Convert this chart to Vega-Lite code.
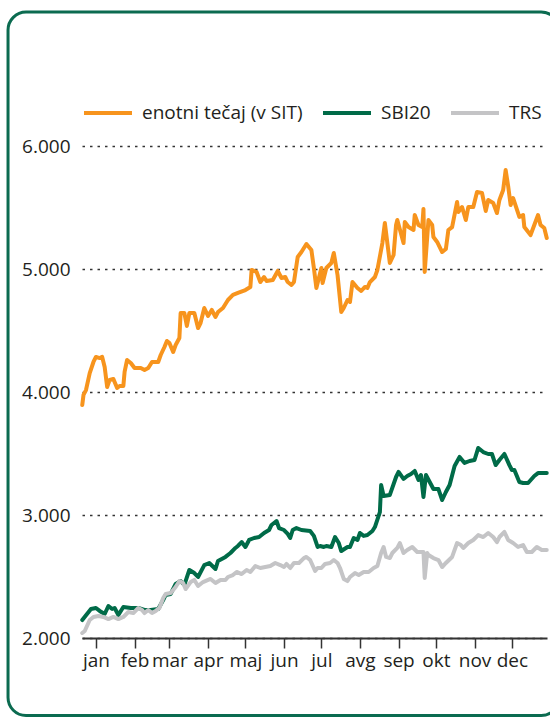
{
"$schema": "https://vega.github.io/schema/vega-lite/v6.json",
"width": 465, "height": 492,
"autosize": {"type": "none"},
"padding": {"left": 82, "top": 146, "right": 3, "bottom": 79},
"background": "white",
"config": {"font": "Open Sans", "view": {"stroke": null}},
"layer": [
{
"data": {"values": [
{"series":"enotni tečaj (v SIT)","day":-11,"value":3894},{"series":"enotni tečaj (v SIT)","day":-10,"value":3976},{"series":"enotni tečaj (v SIT)","day":-8,"value":4016},{"series":"enotni tečaj (v SIT)","day":-5,"value":4154},{"series":"enotni tečaj (v SIT)","day":-2,"value":4244},{"series":"enotni tečaj (v SIT)","day":0,"value":4285},{"series":"enotni tečaj (v SIT)","day":3,"value":4276},{"series":"enotni tečaj (v SIT)","day":5,"value":4285},{"series":"enotni tečaj (v SIT)","day":7,"value":4203},{"series":"enotni tečaj (v SIT)","day":9,"value":4041},{"series":"enotni tečaj (v SIT)","day":11,"value":4098},{"series":"enotni tečaj (v SIT)","day":14,"value":4106},{"series":"enotni tečaj (v SIT)","day":15,"value":4081},{"series":"enotni tečaj (v SIT)","day":17,"value":4033},{"series":"enotni tečaj (v SIT)","day":19,"value":4049},{"series":"enotni tečaj (v SIT)","day":22,"value":4049},{"series":"enotni tečaj (v SIT)","day":23,"value":4163},{"series":"enotni tečaj (v SIT)","day":25,"value":4260},{"series":"enotni tečaj (v SIT)","day":28,"value":4236},{"series":"enotni tečaj (v SIT)","day":31,"value":4195},{"series":"enotni tečaj (v SIT)","day":33,"value":4195},{"series":"enotni tečaj (v SIT)","day":36,"value":4195},{"series":"enotni tečaj (v SIT)","day":39,"value":4179},{"series":"enotni tečaj (v SIT)","day":42,"value":4195},{"series":"enotni tečaj (v SIT)","day":45,"value":4244},{"series":"enotni tečaj (v SIT)","day":50,"value":4244},{"series":"enotni tečaj (v SIT)","day":52,"value":4301},{"series":"enotni tečaj (v SIT)","day":55,"value":4366},{"series":"enotni tečaj (v SIT)","day":57,"value":4415},{"series":"enotni tečaj (v SIT)","day":59,"value":4398},{"series":"enotni tečaj (v SIT)","day":62,"value":4325},{"series":"enotni tečaj (v SIT)","day":64,"value":4382},{"series":"enotni tečaj (v SIT)","day":67,"value":4439},{"series":"enotni tečaj (v SIT)","day":68,"value":4642},{"series":"enotni tečaj (v SIT)","day":71,"value":4642},{"series":"enotni tečaj (v SIT)","day":73,"value":4537},{"series":"enotni tečaj (v SIT)","day":75,"value":4642},{"series":"enotni tečaj (v SIT)","day":79,"value":4642},{"series":"enotni tečaj (v SIT)","day":82,"value":4520},{"series":"enotni tečaj (v SIT)","day":84,"value":4561},{"series":"enotni tečaj (v SIT)","day":87,"value":4683},{"series":"enotni tečaj (v SIT)","day":90,"value":4618},{"series":"enotni tečaj (v SIT)","day":93,"value":4667},{"series":"enotni tečaj (v SIT)","day":96,"value":4610},{"series":"enotni tečaj (v SIT)","day":98,"value":4650},{"series":"enotni tečaj (v SIT)","day":102,"value":4683},{"series":"enotni tečaj (v SIT)","day":106,"value":4748},{"series":"enotni tečaj (v SIT)","day":110,"value":4789},{"series":"enotni tečaj (v SIT)","day":114,"value":4805},{"series":"enotni tečaj (v SIT)","day":120,"value":4829},{"series":"enotni tečaj (v SIT)","day":124,"value":4854},{"series":"enotni tečaj (v SIT)","day":125,"value":4992},{"series":"enotni tečaj (v SIT)","day":129,"value":4976},{"series":"enotni tečaj (v SIT)","day":132,"value":4894},{"series":"enotni tečaj (v SIT)","day":135,"value":4935},{"series":"enotni tečaj (v SIT)","day":137,"value":4902},{"series":"enotni tečaj (v SIT)","day":142,"value":4911},{"series":"enotni tečaj (v SIT)","day":146,"value":4984},{"series":"enotni tečaj (v SIT)","day":149,"value":4927},{"series":"enotni tečaj (v SIT)","day":152,"value":4935},{"series":"enotni tečaj (v SIT)","day":154,"value":4894},{"series":"enotni tečaj (v SIT)","day":157,"value":4870},{"series":"enotni tečaj (v SIT)","day":159,"value":4894},{"series":"enotni tečaj (v SIT)","day":162,"value":5098},{"series":"enotni tečaj (v SIT)","day":165,"value":5138},{"series":"enotni tečaj (v SIT)","day":169,"value":5203},{"series":"enotni tečaj (v SIT)","day":173,"value":5154},{"series":"enotni tečaj (v SIT)","day":175,"value":5008},{"series":"enotni tečaj (v SIT)","day":177,"value":4846},{"series":"enotni tečaj (v SIT)","day":181,"value":5008},{"series":"enotni tečaj (v SIT)","day":182,"value":4886},{"series":"enotni tečaj (v SIT)","day":185,"value":5008},{"series":"enotni tečaj (v SIT)","day":189,"value":5049},{"series":"enotni tečaj (v SIT)","day":191,"value":5130},{"series":"enotni tečaj (v SIT)","day":194,"value":4951},{"series":"enotni tečaj (v SIT)","day":197,"value":4650},{"series":"enotni tečaj (v SIT)","day":199,"value":4683},{"series":"enotni tečaj (v SIT)","day":202,"value":4748},{"series":"enotni tečaj (v SIT)","day":204,"value":4732},{"series":"enotni tečaj (v SIT)","day":206,"value":4894},{"series":"enotni tečaj (v SIT)","day":210,"value":4846},{"series":"enotni tečaj (v SIT)","day":213,"value":4821},{"series":"enotni tečaj (v SIT)","day":216,"value":4854},{"series":"enotni tečaj (v SIT)","day":218,"value":4846},{"series":"enotni tečaj (v SIT)","day":220,"value":4894},{"series":"enotni tečaj (v SIT)","day":224,"value":4935},{"series":"enotni tečaj (v SIT)","day":226,"value":4992},{"series":"enotni tečaj (v SIT)","day":230,"value":5211},{"series":"enotni tečaj (v SIT)","day":232,"value":5374},{"series":"enotni tečaj (v SIT)","day":234,"value":5211},{"series":"enotni tečaj (v SIT)","day":236,"value":5049},{"series":"enotni tečaj (v SIT)","day":239,"value":5114},{"series":"enotni tečaj (v SIT)","day":241,"value":5358},{"series":"enotni tečaj (v SIT)","day":242,"value":5398},{"series":"enotni tečaj (v SIT)","day":247,"value":5211},{"series":"enotni tečaj (v SIT)","day":248,"value":5382},{"series":"enotni tečaj (v SIT)","day":251,"value":5341},{"series":"enotni tečaj (v SIT)","day":255,"value":5317},{"series":"enotni tečaj (v SIT)","day":256,"value":5439},{"series":"enotni tečaj (v SIT)","day":259,"value":5358},{"series":"enotni tečaj (v SIT)","day":262,"value":5341},{"series":"enotni tečaj (v SIT)","day":263,"value":5488},{"series":"enotni tečaj (v SIT)","day":264,"value":4976},{"series":"enotni tečaj (v SIT)","day":267,"value":5398},{"series":"enotni tečaj (v SIT)","day":270,"value":5358},{"series":"enotni tečaj (v SIT)","day":271,"value":5260},{"series":"enotni tečaj (v SIT)","day":274,"value":5220},{"series":"enotni tečaj (v SIT)","day":278,"value":5138},{"series":"enotni tečaj (v SIT)","day":281,"value":5163},{"series":"enotni tečaj (v SIT)","day":283,"value":5317},{"series":"enotni tečaj (v SIT)","day":286,"value":5341},{"series":"enotni tečaj (v SIT)","day":290,"value":5545},{"series":"enotni tečaj (v SIT)","day":291,"value":5463},{"series":"enotni tečaj (v SIT)","day":294,"value":5504},{"series":"enotni tečaj (v SIT)","day":297,"value":5398},{"series":"enotni tečaj (v SIT)","day":299,"value":5504},{"series":"enotni tečaj (v SIT)","day":303,"value":5504},{"series":"enotni tečaj (v SIT)","day":306,"value":5626},{"series":"enotni tečaj (v SIT)","day":310,"value":5618},{"series":"enotni tečaj (v SIT)","day":313,"value":5472},{"series":"enotni tečaj (v SIT)","day":315,"value":5561},{"series":"enotni tečaj (v SIT)","day":319,"value":5537},{"series":"enotni tečaj (v SIT)","day":322,"value":5455},{"series":"enotni tečaj (v SIT)","day":324,"value":5561},{"series":"enotni tečaj (v SIT)","day":327,"value":5642},{"series":"enotni tečaj (v SIT)","day":329,"value":5805},{"series":"enotni tečaj (v SIT)","day":331,"value":5675},{"series":"enotni tečaj (v SIT)","day":333,"value":5520},{"series":"enotni tečaj (v SIT)","day":335,"value":5577},{"series":"enotni tečaj (v SIT)","day":340,"value":5423},{"series":"enotni tečaj (v SIT)","day":343,"value":5439},{"series":"enotni tečaj (v SIT)","day":344,"value":5341},{"series":"enotni tečaj (v SIT)","day":349,"value":5276},{"series":"enotni tečaj (v SIT)","day":355,"value":5439},{"series":"enotni tečaj (v SIT)","day":357,"value":5358},{"series":"enotni tečaj (v SIT)","day":360,"value":5333},{"series":"enotni tečaj (v SIT)","day":362,"value":5252},
{"series":"SBI20","day":-11,"value":2146},{"series":"SBI20","day":-4,"value":2236},{"series":"SBI20","day":0,"value":2244},{"series":"SBI20","day":3,"value":2220},{"series":"SBI20","day":7,"value":2195},{"series":"SBI20","day":10,"value":2260},{"series":"SBI20","day":13,"value":2236},{"series":"SBI20","day":15,"value":2244},{"series":"SBI20","day":18,"value":2187},{"series":"SBI20","day":22,"value":2252},{"series":"SBI20","day":28,"value":2244},{"series":"SBI20","day":34,"value":2244},{"series":"SBI20","day":39,"value":2228},{"series":"SBI20","day":44,"value":2228},{"series":"SBI20","day":50,"value":2236},{"series":"SBI20","day":54,"value":2309},{"series":"SBI20","day":56,"value":2350},{"series":"SBI20","day":60,"value":2358},{"series":"SBI20","day":64,"value":2439},{"series":"SBI20","day":68,"value":2463},{"series":"SBI20","day":71,"value":2431},{"series":"SBI20","day":75,"value":2553},{"series":"SBI20","day":79,"value":2528},{"series":"SBI20","day":82,"value":2496},{"series":"SBI20","day":87,"value":2593},{"series":"SBI20","day":91,"value":2610},{"series":"SBI20","day":96,"value":2561},{"series":"SBI20","day":98,"value":2626},{"series":"SBI20","day":104,"value":2659},{"series":"SBI20","day":108,"value":2691},{"series":"SBI20","day":112,"value":2732},{"series":"SBI20","day":114,"value":2748},{"series":"SBI20","day":117,"value":2780},{"series":"SBI20","day":120,"value":2740},{"series":"SBI20","day":123,"value":2797},{"series":"SBI20","day":127,"value":2813},{"series":"SBI20","day":131,"value":2821},{"series":"SBI20","day":135,"value":2854},{"series":"SBI20","day":139,"value":2878},{"series":"SBI20","day":141,"value":2919},{"series":"SBI20","day":145,"value":2951},{"series":"SBI20","day":147,"value":2894},{"series":"SBI20","day":151,"value":2878},{"series":"SBI20","day":154,"value":2846},{"series":"SBI20","day":156,"value":2813},{"series":"SBI20","day":158,"value":2878},{"series":"SBI20","day":161,"value":2894},{"series":"SBI20","day":165,"value":2878},{"series":"SBI20","day":172,"value":2870},{"series":"SBI20","day":175,"value":2830},{"series":"SBI20","day":178,"value":2740},{"series":"SBI20","day":180,"value":2748},{"series":"SBI20","day":183,"value":2740},{"series":"SBI20","day":185,"value":2748},{"series":"SBI20","day":189,"value":2740},{"series":"SBI20","day":192,"value":2821},{"series":"SBI20","day":195,"value":2772},{"series":"SBI20","day":197,"value":2707},{"series":"SBI20","day":202,"value":2740},{"series":"SBI20","day":204,"value":2740},{"series":"SBI20","day":207,"value":2813},{"series":"SBI20","day":210,"value":2797},{"series":"SBI20","day":212,"value":2854},{"series":"SBI20","day":215,"value":2830},{"series":"SBI20","day":218,"value":2837},{"series":"SBI20","day":222,"value":2870},{"series":"SBI20","day":224,"value":2902},{"series":"SBI20","day":228,"value":3024},{"series":"SBI20","day":229,"value":3244},{"series":"SBI20","day":231,"value":3154},{"series":"SBI20","day":236,"value":3163},{"series":"SBI20","day":241,"value":3309},{"series":"SBI20","day":243,"value":3350},{"series":"SBI20","day":247,"value":3293},{"series":"SBI20","day":250,"value":3317},{"series":"SBI20","day":253,"value":3333},{"series":"SBI20","day":256,"value":3358},{"series":"SBI20","day":259,"value":3285},{"series":"SBI20","day":261,"value":3325},{"series":"SBI20","day":263,"value":3146},{"series":"SBI20","day":265,"value":3325},{"series":"SBI20","day":268,"value":3268},{"series":"SBI20","day":271,"value":3211},{"series":"SBI20","day":275,"value":3211},{"series":"SBI20","day":278,"value":3122},{"series":"SBI20","day":281,"value":3187},{"series":"SBI20","day":284,"value":3244},{"series":"SBI20","day":288,"value":3398},{"series":"SBI20","day":292,"value":3472},{"series":"SBI20","day":296,"value":3423},{"series":"SBI20","day":300,"value":3439},{"series":"SBI20","day":304,"value":3447},{"series":"SBI20","day":307,"value":3545},{"series":"SBI20","day":311,"value":3512},{"series":"SBI20","day":315,"value":3496},{"series":"SBI20","day":318,"value":3496},{"series":"SBI20","day":321,"value":3406},{"series":"SBI20","day":324,"value":3447},{"series":"SBI20","day":328,"value":3496},{"series":"SBI20","day":332,"value":3406},{"series":"SBI20","day":334,"value":3366},{"series":"SBI20","day":336,"value":3366},{"series":"SBI20","day":340,"value":3268},{"series":"SBI20","day":343,"value":3260},{"series":"SBI20","day":347,"value":3260},{"series":"SBI20","day":352,"value":3317},{"series":"SBI20","day":355,"value":3341},{"series":"SBI20","day":362,"value":3341},
{"series":"TRS","day":-11,"value":2041},{"series":"TRS","day":-9,"value":2057},{"series":"TRS","day":-5,"value":2146},{"series":"TRS","day":-2,"value":2171},{"series":"TRS","day":2,"value":2179},{"series":"TRS","day":6,"value":2171},{"series":"TRS","day":10,"value":2154},{"series":"TRS","day":14,"value":2171},{"series":"TRS","day":18,"value":2154},{"series":"TRS","day":22,"value":2171},{"series":"TRS","day":26,"value":2211},{"series":"TRS","day":30,"value":2203},{"series":"TRS","day":34,"value":2244},{"series":"TRS","day":37,"value":2228},{"series":"TRS","day":39,"value":2203},{"series":"TRS","day":42,"value":2228},{"series":"TRS","day":45,"value":2203},{"series":"TRS","day":48,"value":2220},{"series":"TRS","day":51,"value":2244},{"series":"TRS","day":54,"value":2325},{"series":"TRS","day":56,"value":2358},{"series":"TRS","day":60,"value":2366},{"series":"TRS","day":64,"value":2415},{"series":"TRS","day":67,"value":2463},{"series":"TRS","day":70,"value":2447},{"series":"TRS","day":72,"value":2398},{"series":"TRS","day":76,"value":2455},{"series":"TRS","day":79,"value":2472},{"series":"TRS","day":82,"value":2423},{"series":"TRS","day":86,"value":2455},{"series":"TRS","day":92,"value":2480},{"series":"TRS","day":96,"value":2447},{"series":"TRS","day":100,"value":2472},{"series":"TRS","day":104,"value":2472},{"series":"TRS","day":106,"value":2496},{"series":"TRS","day":110,"value":2512},{"series":"TRS","day":113,"value":2537},{"series":"TRS","day":117,"value":2520},{"series":"TRS","day":121,"value":2553},{"series":"TRS","day":124,"value":2537},{"series":"TRS","day":128,"value":2585},{"series":"TRS","day":132,"value":2569},{"series":"TRS","day":136,"value":2577},{"series":"TRS","day":140,"value":2585},{"series":"TRS","day":144,"value":2610},{"series":"TRS","day":148,"value":2593},{"series":"TRS","day":151,"value":2577},{"series":"TRS","day":153,"value":2602},{"series":"TRS","day":156,"value":2569},{"series":"TRS","day":159,"value":2610},{"series":"TRS","day":163,"value":2610},{"series":"TRS","day":167,"value":2650},{"series":"TRS","day":169,"value":2659},{"series":"TRS","day":172,"value":2634},{"series":"TRS","day":176,"value":2545},{"series":"TRS","day":178,"value":2569},{"series":"TRS","day":181,"value":2569},{"series":"TRS","day":184,"value":2602},{"series":"TRS","day":188,"value":2610},{"series":"TRS","day":191,"value":2634},{"series":"TRS","day":194,"value":2610},{"series":"TRS","day":196,"value":2569},{"series":"TRS","day":199,"value":2480},{"series":"TRS","day":202,"value":2463},{"series":"TRS","day":204,"value":2496},{"series":"TRS","day":208,"value":2528},{"series":"TRS","day":211,"value":2512},{"series":"TRS","day":215,"value":2537},{"series":"TRS","day":219,"value":2537},{"series":"TRS","day":223,"value":2569},{"series":"TRS","day":226,"value":2585},{"series":"TRS","day":229,"value":2691},{"series":"TRS","day":231,"value":2740},{"series":"TRS","day":233,"value":2659},{"series":"TRS","day":236,"value":2650},{"series":"TRS","day":238,"value":2691},{"series":"TRS","day":242,"value":2732},{"series":"TRS","day":244,"value":2772},{"series":"TRS","day":247,"value":2691},{"series":"TRS","day":250,"value":2715},{"series":"TRS","day":254,"value":2740},{"series":"TRS","day":258,"value":2699},{"series":"TRS","day":262,"value":2699},{"series":"TRS","day":263,"value":2699},{"series":"TRS","day":264,"value":2488},{"series":"TRS","day":266,"value":2691},{"series":"TRS","day":267,"value":2675},{"series":"TRS","day":271,"value":2650},{"series":"TRS","day":275,"value":2634},{"series":"TRS","day":278,"value":2577},{"series":"TRS","day":281,"value":2610},{"series":"TRS","day":286,"value":2659},{"series":"TRS","day":290,"value":2772},{"series":"TRS","day":293,"value":2756},{"series":"TRS","day":295,"value":2732},{"series":"TRS","day":299,"value":2772},{"series":"TRS","day":303,"value":2797},{"series":"TRS","day":307,"value":2837},{"series":"TRS","day":311,"value":2821},{"series":"TRS","day":315,"value":2854},{"series":"TRS","day":319,"value":2821},{"series":"TRS","day":322,"value":2780},{"series":"TRS","day":324,"value":2821},{"series":"TRS","day":328,"value":2862},{"series":"TRS","day":331,"value":2797},{"series":"TRS","day":335,"value":2772},{"series":"TRS","day":339,"value":2740},{"series":"TRS","day":343,"value":2756},{"series":"TRS","day":346,"value":2699},{"series":"TRS","day":350,"value":2699},{"series":"TRS","day":354,"value":2740},{"series":"TRS","day":358,"value":2715},{"series":"TRS","day":362,"value":2715}
]},
"mark": {"type": "line", "strokeWidth": 4, "strokeJoin": "round", "strokeCap": "round"},
"encoding": {
"x": {"field": "day", "type": "quantitative", "scale": {"domain": [-11.2, 362.2], "nice": false, "zero": false},
 "axis": {"title": null, "values": [0,31,59,90,120,151,181,212,243,273,304,334],
  "labelExpr": "['jan','feb','mar','apr','maj','jun','jul','avg','sep','okt','nov','dec'][indexof([0,31,59,90,120,151,181,212,243,273,304,334], datum.value)]",
  "grid": false, "domainColor": "#333333", "domainWidth": 2, "tickColor": "#333333", "tickWidth": 1.5, "tickSize": 10,
  "labelPadding": 3, "labelFontSize": 19, "labelColor": "#231f20", "labelFlush": false, "labelOverlap": false}},
"y": {"field": "value", "type": "quantitative", "scale": {"domain": [2000, 6000], "nice": false, "zero": false},
 "axis": {"title": null, "values": [2000,3000,4000,5000,6000], "grid": true, "gridDash": [2.5, 5], "gridColor": "#333333", "gridWidth": 1.5,
  "domain": false, "ticks": false, "labelPadding": 12, "labelFontSize": 19, "labelColor": "#231f20",
  "labelExpr": "replace(format(datum.value, ','), ',', '.')"}},
"color": {"field": "series", "type": "nominal",
 "scale": {"domain": ["enotni tečaj (v SIT)", "SBI20", "TRS"], "range": ["#f7941d", "#006b48", "#c4c4c6"]},
 "legend": {"orient": "none", "legendX": 0, "legendY": -59, "direction": "horizontal", "title": null,
  "symbolType": "stroke", "symbolSize": 2304, "symbolStrokeWidth": 4, "labelFontSize": 19, "labelColor": "#231f20",
  "labelOffset": 8, "labelLimit": 400, "columnPadding": 12, "padding": 0}}
}
},
{
"data": {"values": [{"frame": 1}]},
"mark": {"type": "rect", "filled": false, "color": "#0b6b50", "strokeWidth": 3, "cornerRadius": 18, "clip": false},
"encoding": {
"x": {"datum": -70.6, "type": "quantitative"},
"x2": {"datum": 372},
"y": {"datum": 7089, "type": "quantitative"},
"y2": {"datum": 1370}
}
}
]
}
